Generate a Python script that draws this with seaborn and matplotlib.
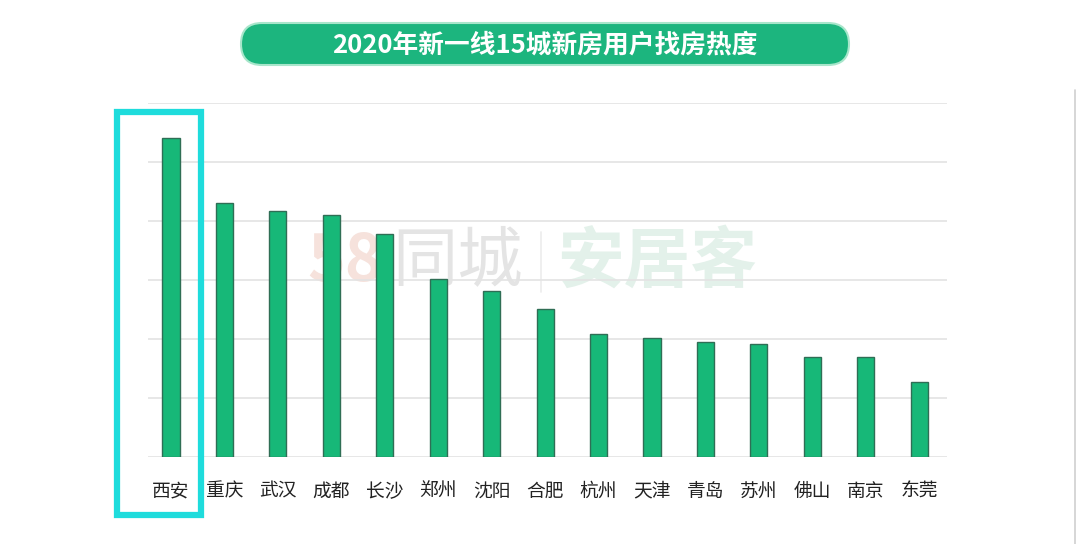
import matplotlib
matplotlib.use("Agg")
import matplotlib.pyplot as plt
import seaborn as sns
import pandas as pd
from matplotlib.patches import FancyBboxPatch, Rectangle
import matplotlib.transforms as mtransforms

cities = ["西安", "重庆", "武汉", "成都", "长沙", "郑州", "沈阳", "合肥",
          "杭州", "天津", "青岛", "苏州", "佛山", "南京", "东莞"]
heat = [54.1, 43.1, 41.7, 41.0, 37.8, 30.2, 28.1, 25.1,
        20.8, 20.2, 19.5, 19.2, 16.9, 16.9, 12.7]
title = "2020年新一线15城新房用户找房热度"

df = pd.DataFrame({"city": cities, "heat": heat})

sns.set_theme(style="white")
plt.rcParams["font.family"] = ["Noto Sans CJK SC", "DejaVu Sans"]

W, H = 1078, 544
fig = plt.figure(figsize=(W / 100, H / 100), dpi=100)
fig.patch.set_facecolor("white")

# decoration layer in pixel coordinates (behind the chart)
deco = fig.add_axes([0, 0, 1, 1])
deco.set_xlim(0, W)
deco.set_ylim(H, 0)
deco.axis("off")
deco.set_zorder(0)

# title pill
deco.add_patch(FancyBboxPatch((241, 23), 608, 42,
                              boxstyle="round,pad=0,rounding_size=21",
                              facecolor="#1CB57E", edgecolor="#a8e6cb",
                              linewidth=1.5))
deco.text(545, 44.5, title, ha="center", va="center", fontsize=18.5,
          color="white", fontweight="bold")

# watermark
deco.text(345, 262, "58", ha="center", va="center", fontsize=46,
          color="#f6e2dc", fontweight="bold")
deco.text(457, 262, "同城", ha="center", va="center", fontsize=47,
          color="#e4e4e4")
deco.plot([541, 541], [232, 292], color="#ececec", lw=1.2)
deco.text(657, 262, "安居客", ha="center", va="center", fontsize=48,
          color="#e3f1ea", fontweight="bold")

# screenshot border on right
deco.plot([1075, 1075], [90, H], color="#cfcfcf", lw=1.2)

# main chart
ax = fig.add_axes([148 / W, 1 - 457 / H, 799 / W, 354 / H])
ax.set_zorder(1)
ax.patch.set_alpha(0)

sns.barplot(data=df, x="city", y="heat", ax=ax, color="#17B878",
            width=0.32, edgecolor="#2F6E55", linewidth=1.0, saturation=1, zorder=3)

ax.set_xlim(-0.43, len(cities) - 1 + 0.52)
ax.set_ylim(0, 60)
ax.set_yticks(range(0, 61, 10))
ax.yaxis.grid(True, color="#e3e3e3", linewidth=1.2)
ax.set_axisbelow(True)
ax.set_yticklabels([])
ax.tick_params(axis="y", length=0)
ax.tick_params(axis="x", length=0, pad=17, labelsize=13.5, labelcolor="#222222")
ax.set_xlabel("")
ax.set_ylabel("")
for s in ax.spines.values():
    s.set_visible(False)

# highlight box around first city
trans = mtransforms.blended_transform_factory(ax.transData, ax.transAxes)
ax.add_patch(Rectangle((-1.01, -0.164), 1.57, 1.139, transform=trans,
                       fill=False, edgecolor="#1EDCDC", linewidth=4.5,
                       clip_on=False, zorder=5))

fig.savefig("out.png", dpi=100, facecolor="white")
